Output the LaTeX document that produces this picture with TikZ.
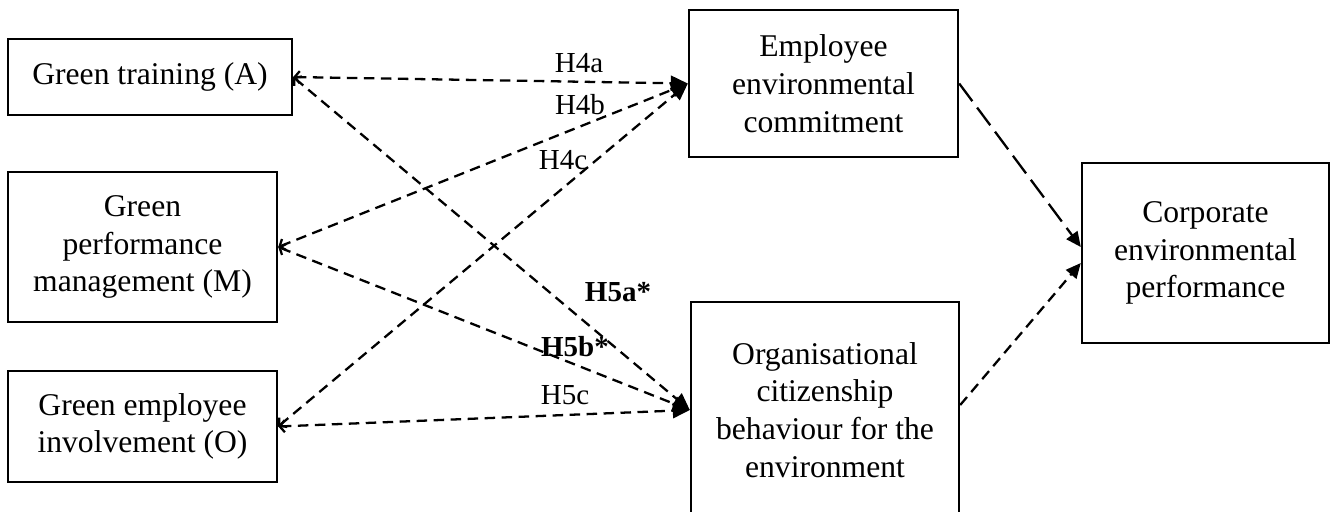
\documentclass[tikz,border=0pt]{standalone}
\usepackage{fontspec}
\setmainfont{Liberation Serif}
\usepackage{tikz}
\usetikzlibrary{arrows.meta}
\usetikzlibrary{calc}

\begin{document}
\begin{tikzpicture}[x=0.02cm, y=-0.02cm,
  box/.style={draw, line width=1.4pt, align=center, inner sep=0pt, font=\fontsize{18}{21.5}\selectfont},
  hyp/.style={inner sep=0pt, font=\fontsize{16.5}{20}\selectfont},
  hlink/.style={line width=1.3pt, dash pattern=on 0.21cm off 0.13cm, {Straight Barb[length=0.1cm,width=0.24cm]}-{Triangle[length=0.34cm,width=0.3cm]}},
  clink/.style={line width=1.3pt, -{Triangle[length=0.3cm,width=0.27cm]}}]

\useasboundingbox (0,0) rectangle (1333,511);

% practices
\node[box, minimum width=5.68cm, minimum height=1.52cm] (A) at (150,77) {Green training (A)};
\node[box, minimum width=5.38cm, minimum height=3cm] (M) at (142.5,247) {Green\\performance\\management (M)};
\node[box, minimum width=5.38cm, minimum height=2.22cm] (O) at (142.5,426.5) {Green employee\\involvement (O)};

% mediators and outcome
\node[box, minimum width=5.38cm, minimum height=2.94cm] (EEC) at (823.5,83.5) {Employee\\environmental\\commitment};
\node[box, minimum width=5.36cm, minimum height=4.32cm] (OCB) at (825,410) {Organisational\\citizenship\\behaviour for the\\environment};
\node[box, minimum width=4.94cm, minimum height=3.6cm] (CEP) at (1205.5,253) {Corporate\\environmental\\performance};

\draw[hlink] (A.east) -- (EEC.west);
\draw[hlink] (M.east) -- (EEC.west);
\draw[hlink] (O.east) -- (EEC.west);
\draw[hlink] (A.east) -- (OCB.west);
\draw[hlink] (M.east) -- (OCB.west);
\draw[hlink] (O.east) -- (OCB.west);

\draw[clink, dash pattern=on 0.44cm off 0.16cm] (EEC.east) -- ($(CEP.west)+(0,-6)$);
\draw[clink, dash pattern=on 0.21cm off 0.13cm] ($(OCB.east)+(0,-5)$) -- ($(CEP.west)+(0,10)$);

%\draw[red] (0,0) rectangle (1333,511);
\node[hyp] (h4a) at (579,63) {H4a};
\node[hyp] (h4b) at (580,105) {H4b};
\node[hyp] (h4c) at (563,160) {H4c};
\node[hyp, font=\fontsize{16.5}{20}\selectfont\bfseries] (h5a) at (618,292) {H5a*};
\node[hyp, font=\fontsize{16.5}{20}\selectfont\bfseries] (h5b) at (575,347) {H5b*};
\node[hyp] (h5c) at (565,395) {H5c};

\end{tikzpicture}
\end{document}
